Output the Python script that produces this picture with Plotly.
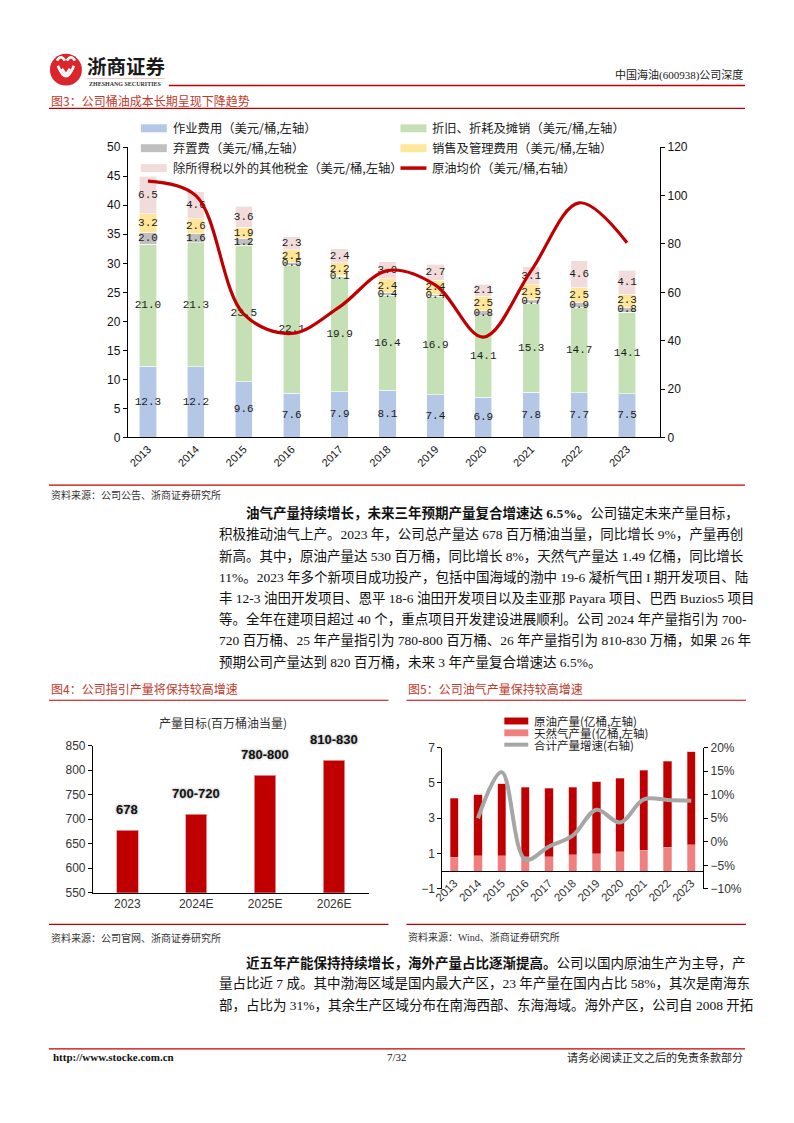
import plotly.graph_objects as go
import numpy as np

W, H = 794, 1123
def X(px): return ((px - 8.0) / 0.99) / W
def Y(py): return 1 - (py - 4.0 * max(0.0, 1 - py / 600.0)) / H

CJK = "Noto Sans CJK SC"
SERIF = "Liberation Serif, Noto Sans CJK SC"
SANS = "Liberation Sans, Arial, Noto Sans CJK SC"
RED = "#C00000"

# ---------------- data ----------------
years = ['2013', '2014', '2015', '2016', '2017', '2018', '2019', '2020', '2021', '2022', '2023']
op_cost = [12.3, 12.2, 9.6, 7.6, 7.9, 8.1, 7.4, 6.9, 7.8, 7.7, 7.5]
dda_cost = [21.0, 21.3, 23.5, 22.1, 19.9, 16.4, 16.9, 14.1, 15.3, 14.7, 14.1]
abandon_cost = [2.0, 1.6, 1.2, 0.5, 0.1, 0.4, 0.4, 0.8, 0.7, 0.9, 0.8]
sga_cost = [3.2, 2.6, 1.9, 2.1, 2.2, 2.4, 2.4, 2.5, 2.5, 2.5, 2.3]
other_tax = [6.5, 4.6, 3.6, 2.3, 2.4, 3.0, 2.7, 2.1, 3.1, 4.6, 4.1]
oil_price = [106.0, 100.0, 51.0, 43.0, 54.0, 69.0, 63.0, 41.5, 69.0, 97.0, 80.5]

guide_years = ['2023', '2024E', '2025E', '2026E']
guide_values = [678, 710, 790, 820]
guide_labels = ['678', '700-720', '780-800', '810-830']

gas_prod = [0.78, 0.87, 0.87, 0.83, 0.82, 0.93, 0.98, 1.10, 1.20, 1.35, 1.49]
crude_prod = [3.34, 3.45, 4.08, 3.94, 3.88, 3.82, 4.09, 4.18, 4.53, 4.89, 5.29]
growth_years = years[1:]
growth_pct = [5.0, 14.8, -3.8, -1.0, 1.3, 6.8, 4.1, 9.0, 8.9, 8.7]

fig = go.Figure()

# ---------------- Figure 3 ----------------
idx = np.arange(len(years))
series3 = [
    ("作业费用（美元/桶,左轴）", op_cost, "#B4C7E7"),
    ("折旧、折耗及摊销（美元/桶,左轴）", dda_cost, "#C5E0B4"),
    ("弃置费（美元/桶,左轴）", abandon_cost, "#BFBFBF"),
    ("销售及管理费用（美元/桶,左轴）", sga_cost, "#FFE699"),
    ("除所得税以外的其他税金（美元/桶,左轴）", other_tax, "#F2DCDB"),
]
for name, vals, col in series3:
    fig.add_trace(go.Bar(x=idx, y=vals, name=name, marker=dict(color=col, line=dict(color="white", width=0.6)),
                         width=0.36, xaxis="x", yaxis="y", showlegend=False))
stack = np.array([s[1] for s in series3])
cum = np.cumsum(stack, axis=0)
for k in range(stack.shape[0]):
    mids = cum[k] - stack[k] / 2
    fig.add_trace(go.Scatter(x=idx, y=mids, mode="text", text=[f"{v:.1f}" for v in stack[k]],
                             textfont=dict(family="Liberation Mono", size=11, color="#1a1a1a"),
                             xaxis="x", yaxis="y", showlegend=False, hoverinfo="skip"))
fig.add_trace(go.Scatter(x=idx, y=oil_price, mode="lines", name="原油均价（美元/桶,右轴）",
                         line=dict(color=RED, width=3.2, shape="spline", smoothing=1.0),
                         xaxis="x", yaxis="y2", showlegend=False))

# ---------------- Figure 4 ----------------
gidx = np.arange(len(guide_years))
fig.add_trace(go.Bar(x=gidx, y=guide_values, marker=dict(color=RED, line=dict(color="#E8A0A0", width=0.8)),
                     width=0.31, xaxis="x2", yaxis="y3", showlegend=False))

# ---------------- Figure 5 ----------------
fig.add_trace(go.Bar(x=idx, y=gas_prod, name="天然气产量(亿桶,左轴)", marker=dict(color="#F08080", line=dict(color="#F8C8C8", width=0.5)),
                     width=0.35, xaxis="x3", yaxis="y4", showlegend=False))
fig.add_trace(go.Bar(x=idx, y=crude_prod, name="原油产量(亿桶,左轴)", marker=dict(color=RED, line=dict(color="#E8A0A0", width=0.5)),
                     width=0.35, xaxis="x3", yaxis="y4", showlegend=False))
fig.add_trace(go.Scatter(x=idx[1:], y=growth_pct, mode="lines", name="合计产量增速(右轴)",
                         line=dict(color="#A6A6A6", width=4, shape="spline", smoothing=1.0),
                         xaxis="x3", yaxis="y5", showlegend=False))

ax_common = dict(showgrid=False, zeroline=False, showline=True, linecolor="#000", linewidth=1)

fig.update_layout(
    width=W, height=H, margin=dict(l=0, r=0, t=0, b=0),
    paper_bgcolor="white", plot_bgcolor="rgba(0,0,0,0)",
    barmode="stack", showlegend=False,
    xaxis=dict(domain=[X(127), X(660)], range=[-0.42, 10.69], tickvals=list(idx), ticktext=years,
               tickangle=-45, ticks="", anchor="y",
               tickfont=dict(family=SANS, size=11, color="#111"), **ax_common),
    yaxis=dict(domain=[Y(437), Y(145)], range=[0, 50], dtick=5, ticks="outside", ticklen=4,
               tickcolor="#000", anchor="x", tickfont=dict(family=SANS, size=12, color="#111"), **ax_common),
    yaxis2=dict(domain=[Y(437), Y(145)], range=[0, 120], dtick=20, overlaying="y", side="right",
                ticks="outside", ticklen=4, tickcolor="#000", anchor="x",
                tickfont=dict(family=SANS, size=12, color="#111"), **ax_common),
    xaxis2=dict(domain=[X(92), X(368)], range=[-0.5, 3.5], tickvals=list(gidx), ticktext=guide_years,
                ticks="", anchor="y3", tickfont=dict(family=SANS, size=12, color="#333"), **ax_common),
    yaxis3=dict(domain=[Y(897), Y(748)], range=[550, 850], dtick=50, ticks="outside", ticklen=4,
                tickcolor="#000", anchor="x2", tickfont=dict(family=SANS, size=12, color="#333"), **ax_common),
    xaxis3=dict(domain=[X(442), X(703)], range=[-0.5, 10.5], tickvals=list(idx), ticktext=years,
                tickangle=-45, ticks="", anchor="free", position=Y(875),
                tickfont=dict(family=SANS, size=11.5, color="#333"), **ax_common),
    yaxis4=dict(domain=[Y(893), Y(750)], range=[-1, 7], tickvals=[-1, 1, 3, 5, 7], ticks="outside", ticklen=4,
                tickcolor="#000", anchor="x3", tickfont=dict(family=SANS, size=12, color="#333"), **ax_common),
    yaxis5=dict(domain=[Y(893), Y(750)], range=[-10, 20], dtick=5, ticksuffix="%", overlaying="y4", side="right",
                ticks="outside", ticklen=4, tickcolor="#000", anchor="x3",
                tickfont=dict(family=SANS, size=12, color="#333"), **ax_common),
)

shapes = []
annos = []

def hline(x0, x1, y, color=RED, width=1.2):
    shapes.append(dict(type="line", xref="paper", yref="paper", x0=X(x0), x1=X(x1), y0=Y(y), y1=Y(y),
                       line=dict(color=color, width=width)))

def text(x, y, s, size=12, color="#222", family=CJK, xanchor="left", yanchor="middle"):
    annos.append(dict(xref="paper", yref="paper", x=X(x), y=Y(y), text=s, showarrow=False,
                      xanchor=xanchor, yanchor=yanchor, font=dict(family=family, size=size, color=color)))

def rect(x0, x1, y0, y1, color):
    shapes.append(dict(type="rect", xref="paper", yref="paper", x0=X(x0), x1=X(x1), y0=Y(y1), y1=Y(y0),
                       fillcolor=color, line=dict(width=0)))

# ---- header ----
shapes.append(dict(type="circle", xref="paper", yref="paper", x0=X(49), x1=X(81), y0=Y(83), y1=Y(51),
                   fillcolor="#D9252B", line=dict(width=0)))
for d in [
    f"M {X(56)},{Y(58)} Q {X(60)},{Y(51)} {X(64)},{Y(58)}",
    f"M {X(66)},{Y(58)} Q {X(70)},{Y(51)} {X(74)},{Y(58)}",
    f"M {X(57)},{Y(63)} Q {X(65)},{Y(84)} {X(73)},{Y(63)}",
    f"M {X(61)},{Y(66)} L {X(65)},{Y(72)} L {X(69)},{Y(66)}",
]:
    shapes.append(dict(type="path", xref="paper", yref="paper", path=d, line=dict(color="white", width=2.6)))
text(84, 63, "<b>浙商证券</b>", size=19.5, color="#1a1a1a")
hline(86, 164, 76, color="#E6B8B8", width=0.8)
text(125, 81, "<b>ZHESHANG SECURITIES</b>", size=6, color="#333", family="Liberation Serif", xanchor="center")
hline(168, 745, 83, color=RED, width=1.5)
text(745, 72, "中国海油(600938)公司深度", size=11, color="#222", family=SERIF, xanchor="right")

# ---- Figure 3 title / legend ----
text(48, 98, "图3：公司桶油成本长期呈现下降趋势", size=12, color="#C0392B")
hline(48, 745, 106, width=1.2)
leg3 = [
    (140, 126, "作业费用（美元/桶,左轴）", "#B4C7E7", "bar"),
    (400, 126, "折旧、折耗及摊销（美元/桶,左轴）", "#C5E0B4", "bar"),
    (140, 146, "弃置费（美元/桶,左轴）", "#BFBFBF", "bar"),
    (400, 146, "销售及管理费用（美元/桶,左轴）", "#FFE699", "bar"),
    (140, 166, "除所得税以外的其他税金（美元/桶,左轴）", "#F2DCDB", "bar"),
    (400, 166, "原油均价（美元/桶,右轴）", RED, "line"),
]
for lx, ly, s, col, kind in leg3:
    if kind == "bar":
        rect(lx, lx + 26, ly - 4, ly + 4, col)
    else:
        shapes.append(dict(type="line", xref="paper", yref="paper", x0=X(lx), x1=X(lx + 26), y0=Y(ly), y1=Y(ly),
                           line=dict(color=col, width=3.5)))
    text(lx + 30, ly, s, size=12.3, color="#222")

hline(48, 745, 485, width=1.2)
text(48, 494, "资料来源：公司公告、浙商证券研究所", size=10, color="#333")

# ---- paragraph 1 ----
p1 = [
    "<b>油气产量持续增长，未来三年预期产量复合增速达 6.5%。</b>公司锚定未来产量目标，",
    "积极推动油气上产。2023 年，公司总产量达 678 百万桶油当量，同比增长 9%，产量再创",
    "新高。其中，原油产量达 530 百万桶，同比增长 8%，天然气产量达 1.49 亿桶，同比增长",
    "11%。2023 年多个新项目成功投产，包括中国海域的渤中 19-6 凝析气田 I 期开发项目、陆",
    "丰 12-3 油田开发项目、恩平 18-6 油田开发项目以及圭亚那 Payara 项目、巴西 Buzios5 项目",
    "等。全年在建项目超过 40 个，重点项目开发建设进展顺利。公司 2024 年产量指引为 700-",
    "720 百万桶、25 年产量指引为 780-800 百万桶、26 年产量指引为 810-830 万桶，如果 26 年",
    "预期公司产量达到 820 百万桶，未来 3 年产量复合增速达 6.5%。",
]
for k, s in enumerate(p1):
    text(243 if k == 0 else 216, 513 + 21.4 * k, s, size=13.5, color="#111", family=SERIF)

# ---- Figure 4 / 5 titles ----
text(48, 690, "图4：公司指引产量将保持较高增速", size=12, color="#C0392B")
hline(48, 388, 702, width=1.2)
text(406, 690, "图5：公司油气产量保持较高增速", size=12, color="#C0392B")
hline(406, 746, 702, width=1.2)

text(222, 725, "产量目标(百万桶油当量)", size=12, color="#333", xanchor="center")
for i, (v, lab) in enumerate(zip(guide_values, guide_labels)):
    annos.append(dict(xref="x2", yref="y3", x=i, y=v, yshift=21, text=f"<b>{lab}</b>", showarrow=False,
                      xanchor="center", yanchor="middle",
                      font=dict(family=SANS, size=13, color="#111", shadow="0px 0px 3px #999")))

leg5 = [
    (723, "原油产量(亿桶,左轴)", RED, "bar"),
    (735, "天然气产量(亿桶,左轴)", "#F08080", "bar"),
    (747, "合计产量增速(右轴)", "#A6A6A6", "line"),
]
for ly, s, col, kind in leg5:
    if kind == "bar":
        rect(504, 528, ly - 3.5, ly + 3.5, col)
    else:
        shapes.append(dict(type="line", xref="paper", yref="paper", x0=X(504), x1=X(528), y0=Y(ly), y1=Y(ly),
                           line=dict(color=col, width=4)))
    text(532, ly, s, size=11.5, color="#222")

hline(48, 388, 929, width=1.2)
hline(406, 746, 929, width=1.2)
text(48, 942, "资料来源：公司官网、浙商证券研究所", size=10, color="#333")
text(406, 942, "资料来源：Wind、浙商证券研究所", size=10, color="#333", family=SERIF)

# ---- paragraph 2 ----
p2 = [
    "<b>近五年产能保持持续增长，海外产量占比逐渐提高。</b>公司以国内原油生产为主导，产",
    "量占比近 7 成。其中渤海区域是国内最大产区，23 年产量在国内占比 58%，其次是南海东",
    "部，占比为 31%，其余生产区域分布在南海西部、东海海域。海外产区，公司自 2008 开拓",
]
for k, s in enumerate(p2):
    text(243 if k == 0 else 216, 968 + 21.2 * k, s, size=13.5, color="#111", family=SERIF)

# ---- footer ----
hline(48, 745, 1055, width=1.2)
text(50, 1063, "<b>http://www.stocke.com.cn</b>", size=11, color="#111", family="Liberation Serif")
text(397, 1063, "7/32", size=11, color="#111", family="Liberation Serif", xanchor="center")
text(745, 1063, "请务必阅读正文之后的免责条款部分", size=11, color="#222", xanchor="right")

fig.update_layout(shapes=shapes, annotations=annos)
fig.write_html("out.html", config={"displayModeBar": False},
               post_script="document.body.style.margin='0';document.body.style.padding='0';"
                           "document.body.style.overflow='hidden';")
